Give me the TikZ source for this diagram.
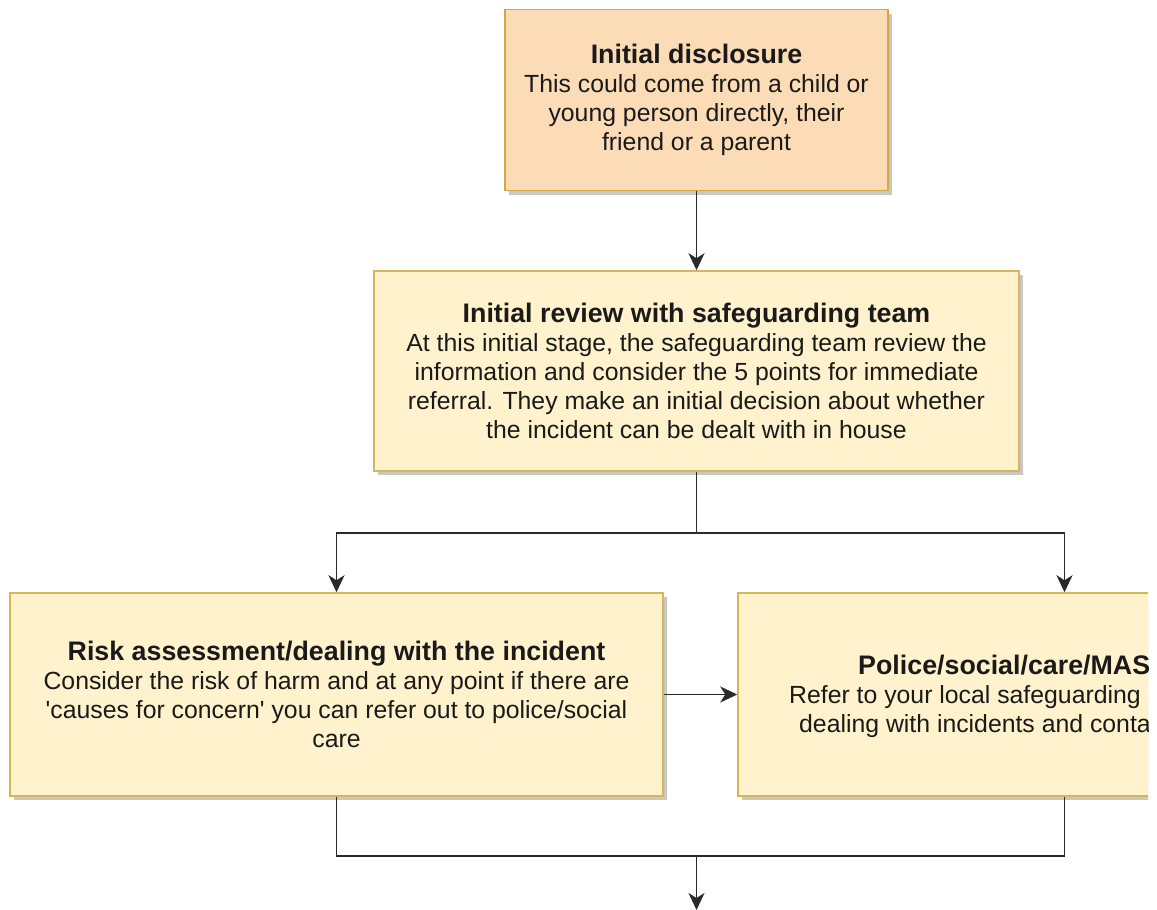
\documentclass[tikz,border=0pt]{standalone}
\usepackage{fontspec}
\setmainfont{Liberation Sans}[Ligatures=TeXOff]
\usetikzlibrary{arrows.meta,shadows}
\definecolor{orfill}{HTML}{FCDCB6}
\definecolor{ordraw}{HTML}{D6A640}
\definecolor{yefill}{HTML}{FFF2CC}
\definecolor{yedraw}{HTML}{D6B656}
\definecolor{linec}{HTML}{2A2A2A}
\definecolor{txt}{HTML}{1A1A1A}
\newcommand{\ttl}[1]{{\fontsize{26.8}{29}\selectfont\bfseries #1}}
\begin{document}
\begin{tikzpicture}[x=1pt,y=-1pt,
  box/.style={draw=yedraw, fill=yefill, line width=1.5pt, inner sep=0pt, align=center, text=txt,
    font=\fontsize{24.8}{29}\selectfont,
    drop shadow={shadow xshift=4pt, shadow yshift=-4pt, fill=black, opacity=0.22}},
  obox/.style={box, draw=ordraw, fill=orfill},
  txtline/.style={inner sep=0pt, anchor=base west, text=txt, font=\fontsize{24.8}{29}\selectfont},
  conn/.style={draw=linec, line width=1.9pt},
  arr/.style={conn, -{Stealth[length=17pt,width=16pt,inset=5pt]}}
]
\useasboundingbox[fill=white] (0,0) rectangle (1157,910);

\node[obox, minimum width=383pt, minimum height=181pt] (b1) at (696.5,100)
  {\ttl{Initial disclosure}\\This could come from a child or\\young person directly, their\\friend or a parent};

\node[box, minimum width=645pt, minimum height=200pt] (b2) at (696.5,371)
  {\ttl{Initial review with safeguarding team}\\At this initial stage, the safeguarding team review the\\information and consider the 5 points for immediate\\referral. They make an initial decision about whether\\the incident can be dealt with in house};

\node[box, minimum width=653pt, minimum height=203pt] (b3) at (336.5,694.5)
  {\ttl{Risk assessment/dealing with the incident}\\Consider the risk of harm and at any point if there are\\'causes for concern' you can refer out to police/social\\care};

\begin{scope}
\clip (0,0) rectangle (1148,910);
\node[box, minimum width=653pt, minimum height=203pt] (b4) at (1064.5,694.5) {};
\node[txtline] (t4a) at (858,674.5) {\ttl{Police/social/care/MAS}};
\node[txtline] (t4b) at (789,703.5) {Refer to your local safeguarding};
\node[txtline] (t4c) at (799,732.5) {dealing with incidents and conta};
\end{scope}

\draw[arr] (b1.south) -- (b2.north);
\coordinate (j1) at (696.5,533);
\draw[conn] (b2.south) -- (j1);
\draw[arr] (j1) -| (b3.north);
\draw[arr] (j1) -| (b4.north);
\draw[arr] (b3.east) -- (b4.west);
\coordinate (j2) at (696.5,856);
\coordinate (jl) at (336.5,856);
\coordinate (end) at (696.5,910);
\draw[conn] (b3.south) -- (jl) -| (b4.south);
\draw[arr] (j2) -- (end);
\end{tikzpicture}
\end{document}
